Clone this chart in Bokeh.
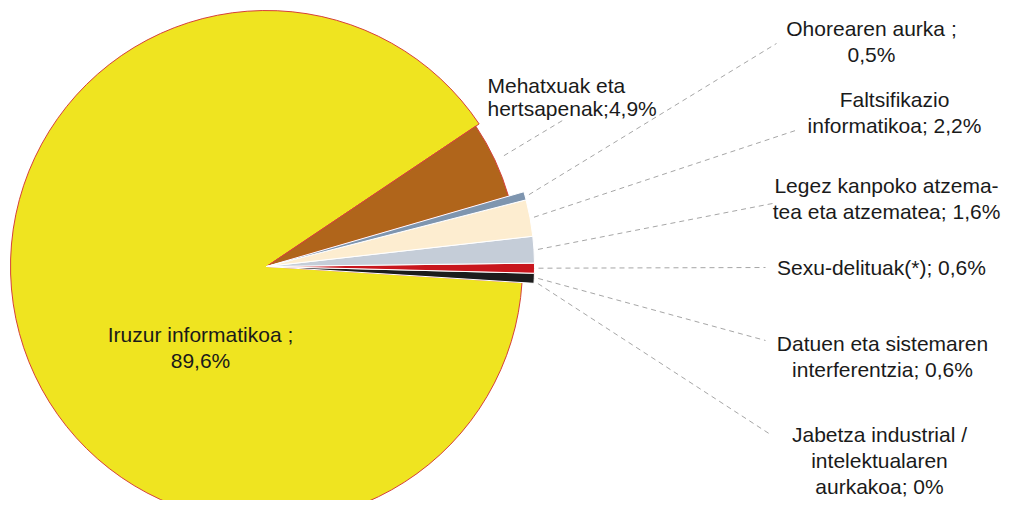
import numpy as np
from bokeh.plotting import figure
from bokeh.models import ColumnDataSource, Range1d
from bokeh.core.properties import value
from bokeh.embed import file_html
from bokeh.resources import INLINE

# ---- data (counter-clockwise order, starting just below 3 o'clock) ----
categories = [
    "Jabetza industrial / intelektualaren aurkakoa",
    "Datuen eta sistemaren interferentzia",
    "Sexu-delituak(*)",
    "Legez kanpoko atzematea eta atzematea",
    "Faltsifikazio informatikoa",
    "Ohorearen aurka",
    "Mehatxuak eta hertsapenak",
    "Iruzur informatikoa",
]
values = [0.0, 0.6, 0.6, 1.6, 2.2, 0.5, 4.9, 89.6]
labels = [
    "Jabetza industrial /\nintelektualaren\naurkakoa; 0%",
    "Datuen eta sistemaren\ninterferentzia; 0,6%",
    "Sexu-delituak(*); 0,6%",
    "Legez kanpoko atzema-\ntea eta atzematea; 1,6%",
    "Faltsifikazio\ninformatikoa; 2,2%",
    "Ohorearen aurka ;\n0,5%",
    "Mehatxuak eta\nhertsapenak;4,9%",
    "Iruzur informatikoa ;\n89,6%",
]
colors = ["#7f7f7f", "#1c1c1c", "#c8161d", "#c5cdd8", "#fdedd0", "#7e95af", "#b0651b", "#efe420"]

# ---- layout (picture pixel coordinates, y downward) ----
W, H = 1006, 500
cx, cy = 266, 266
start_deg = -3.6
radii = [268, 268, 268, 268, 268, 268, 252, 256]
outline = ["#ffffff"] * 6 + ["#d5403a", "#d5403a"]
label_pos = [(879, 460), (882, 356), (881, 267), (886, 198), (894, 112), (871, 41), (487, 96), (200, 347)]
leader_end = [(770, 434), (765, 340), (765, 267), (772, 203), (795, 130), (776, 43), (562, 120), None]
leader_gap = [4, 4, 4, 4, 4, 4, 10, 0]

def Y(y):
    return 516 - y

p = figure(width=W, height=H, output_backend="svg", toolbar_location=None,
           x_range=Range1d(0, W), y_range=Range1d(516 - H, 516),
           min_border=0)
p.axis.visible = False
p.grid.visible = False
p.outline_line_color = None
p.background_fill_color = "white"
p.border_fill_color = "white"

vals = np.array(values)
cum = np.concatenate([[0], np.cumsum(vals)]) / vals.sum() * 2 * np.pi
starts = cum[:-1] + np.radians(start_deg)
ends = cum[1:] + np.radians(start_deg)
mids = (starts + ends) / 2

# draw yellow and brown first, then the small slices
order = [7, 6, 1, 2, 3, 4, 5]
idx = [i for i in order if values[i] > 0]
src = ColumnDataSource(dict(
    x=[cx] * len(idx), y=[Y(cy)] * len(idx),
    r=[radii[i] for i in idx],
    s=[starts[i] for i in idx], e=[ends[i] for i in idx],
    c=[colors[i] for i in idx], lc=[outline[i] for i in idx],
))
p.wedge(x="x", y="y", radius="r", start_angle="s", end_angle="e", direction="anticlock",
        fill_color="c", line_color="lc", line_width=1, source=src)

# leader lines
xs, ys = [], []
for i in range(len(values)):
    if leader_end[i] is None:
        continue
    a = mids[i] if values[i] > 0 else starts[i]
    rr = radii[i] + leader_gap[i]
    x0 = cx + rr * np.cos(a)
    y0 = Y(cy) + rr * np.sin(a)
    xs.append([x0, leader_end[i][0]])
    ys.append([y0, Y(leader_end[i][1])])
p.multi_line(xs, ys, line_color="#a6a6a6", line_width=1, line_dash="5 4")

font = value("Liberation Sans")
cidx = [0, 1, 2, 3, 4, 5, 7]
p.text(x=[label_pos[i][0] for i in cidx], y=[Y(label_pos[i][1]) for i in cidx],
       text=[labels[i] for i in cidx], text_font=font, text_font_size="21px",
       text_align="center", text_baseline="middle", text_color="#1a1a1a",
       text_line_height=1.15)
p.text(x=[label_pos[6][0]], y=[Y(label_pos[6][1])], text=[labels[6]], text_font=font,
       text_font_size="21px", text_align="left", text_baseline="middle",
       text_color="#1a1a1a", text_line_height=1.0)

open("out.html", "w").write(file_html(p, INLINE))
